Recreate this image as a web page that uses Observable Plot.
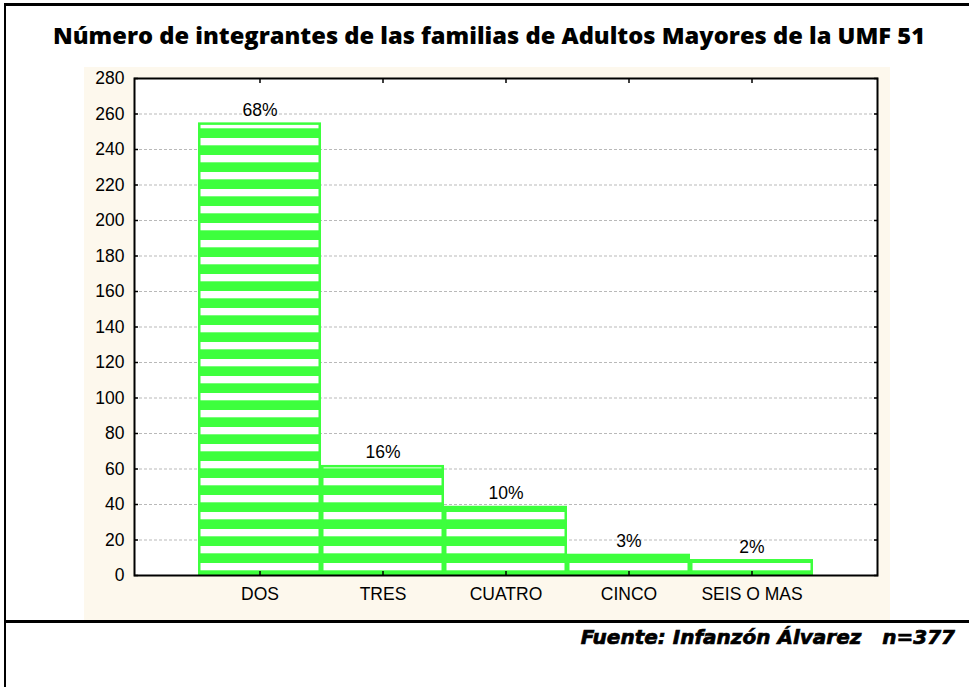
<!DOCTYPE html>
<html>
<head>
<meta charset="utf-8">
<script src="https://cdn.jsdelivr.net/npm/d3@7"></script>
<script src="https://cdn.jsdelivr.net/npm/@observablehq/plot@0.6"></script>
<style>
  html, body { margin: 0; padding: 0; background: #ffffff; }
  #page { position: relative; width: 969px; height: 687px; overflow: hidden; background: #ffffff; }
  .line { position: absolute; background: #000; }
  #chart { position: absolute; left: 84px; top: 67px; }
  svg.txt { position: absolute; left: 0; overflow: visible; }
  #footer {
    position: absolute; right: 14px; top: 624px; height: 26px; line-height: 26px;
    font-family: 'DejaVu Sans', sans-serif; font-weight: 700; font-style: italic; font-size: 20px;
    color: #000; -webkit-text-stroke: 0.7px #000; white-space: pre;
  }
</style>
</head>
<body>
<div id="page">
  <div class="line" style="left:4px; top:3px; width:965px; height:3px;"></div>
  <div class="line" style="left:4px; top:3px; width:2px; height:684px;"></div>
  <div class="line" style="left:4px; top:620px; width:965px; height:3px;"></div>
  <svg class="txt" style="top:0" width="969" height="60">
    <text x="489" y="44" text-anchor="middle" textLength="872" lengthAdjust="spacingAndGlyphs"
      style="font-family:'Open Sans',sans-serif; font-weight:800; font-size:22.5px; fill:#000;">Número de integrantes de las familias de Adultos Mayores de la UMF 51</text>
  </svg>
  <div id="chart"></div>
  <div id="footer">Fuente: Infanzón Álvarez   n=377</div>
</div>
<script>
const categories = ["DOS", "TRES", "CUATRO", "CINCO", "SEIS O MAS"];
const counts = [255, 62, 39, 12, 9];
const percentLabels = ["68%", "16%", "10%", "3%", "2%"];
const yTicks = [0, 20, 40, 60, 80, 100, 120, 140, 160, 180, 200, 220, 240, 260, 280];
const gridTicks = [20, 40, 60, 80, 100, 120, 140, 160, 180, 200, 220, 240, 260];

const green = "#3dff3d";
const data = categories.map((c, i) => ({cat: c, n: counts[i], pct: percentLabels[i]}));

const chart = Plot.plot({
  width: 806,
  height: 553,
  marginLeft: 50,
  marginRight: 13,
  marginTop: 11,
  marginBottom: 45,
  style: {background: "#fdf8ed", fontFamily: "'Liberation Sans', Arial, sans-serif", fontSize: "17.5px", color: "#000"},
  x: {domain: categories, paddingInner: 0, paddingOuter: 0.5, label: null},
  y: {domain: [0, 280], label: null},
  marks: [
    Plot.frame({fill: "#ffffff", stroke: null}),
    Plot.gridY(gridTicks, {stroke: "#b9b9b9", strokeOpacity: 1, strokeDasharray: "3,2"}),
    Plot.barY(data, {x: "cat", y: "n", fill: "url(#stripes)", stroke: green, strokeWidth: 2.5, inset: 1.25}),
    Plot.text(data, {x: "cat", y: "n", text: "pct", dy: -7, lineAnchor: "bottom", fontSize: 17.5}),
    Plot.frame({stroke: "#000", strokeWidth: 2}),
    Plot.axisY(yTicks, {anchor: "left", tickSize: -4, tickPadding: 14, strokeWidth: 1.5, fontSize: 17.5, label: null}),
    Plot.axisY(yTicks, {anchor: "right", tickSize: -4, strokeWidth: 1.5, tickFormat: () => "", label: null}),
    Plot.axisX({anchor: "bottom", tickSize: -4, tickPadding: 16, strokeWidth: 1.5, fontSize: 17.5, label: null}),
    Plot.axisX({anchor: "top", tickSize: -4, strokeWidth: 1.5, tickFormat: () => "", label: null})
  ]
});

// striped fill pattern, anchored to the zero baseline of the y scale
const y0 = chart.scale("y").apply(0);
const ns = "http://www.w3.org/2000/svg";
const defs = document.createElementNS(ns, "defs");
const pat = document.createElementNS(ns, "pattern");
pat.setAttribute("id", "stripes");
pat.setAttribute("patternUnits", "userSpaceOnUse");
pat.setAttribute("x", 0);
pat.setAttribute("y", y0);
pat.setAttribute("width", 10);
pat.setAttribute("height", 17);
const bg = document.createElementNS(ns, "rect");
bg.setAttribute("width", 10); bg.setAttribute("height", 17); bg.setAttribute("fill", green);
const st = document.createElementNS(ns, "rect");
st.setAttribute("y", 5); st.setAttribute("width", 10); st.setAttribute("height", 7.3); st.setAttribute("fill", "#ffffff");
pat.appendChild(bg); pat.appendChild(st); defs.appendChild(pat);
chart.insertBefore(defs, chart.firstChild);

document.getElementById("chart").appendChild(chart);
</script>
</body>
</html>
